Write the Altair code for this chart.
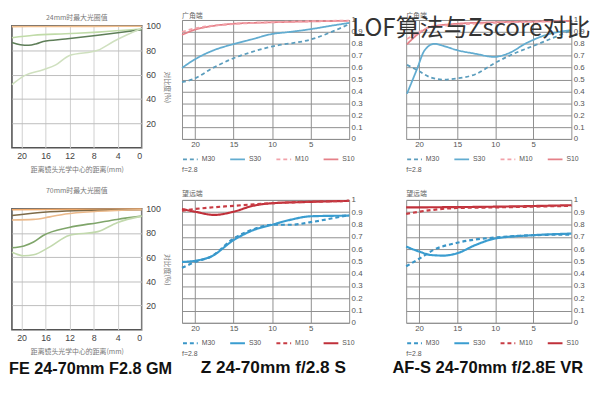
import altair as alt
import pandas as pd

TITLE = "LOF算法与Zscore对比"
LENS_NAMES = ["FE 24-70mm F2.8 GM", "Z 24-70mm f/2.8 S", "AF-S 24-70mm f/2.8E VR"]
PANEL_TITLES = ["24mm时最大光圈值", "广角端", "广角端", "70mm时最大光圈值", "望远端", "望远端"]
LEFT_X_TITLE = "距离镜头光学中心的距离(mm)"
LEFT_Y_TITLE = "对比度(%)"
LEGEND_TITLE = "f=2.8"
SERIES = ["M30", "S30", "M10", "S10"]
X_TICKS_LEFT = [0, 4, 8, 12, 16, 20]
Y_TICKS_LEFT = [20, 40, 60, 80, 100]
X_TICKS_MTF = [5, 10, 15, 20]
Y_TICKS_MTF = [0, 0.1, 0.2, 0.3, 0.4, 0.5, 0.6, 0.7, 0.8, 0.9, 1]

# ---- top-left panel (contrast %, 24mm) ----
TL_NAMES = ["A", "B", "C", "D"]
TL_A_X = [21.6, 16, 8, 0]
TL_A_Y = [99.4, 99.5, 99.6, 99.7]
TL_B_X = [21.6, 18.0, 12.7, 7.3, 0]
TL_B_Y = [90.3, 92.3, 93.6, 94.9, 97.4]
TL_C_X = [21.6, 20.2, 18.8, 17.5, 16.4, 12.7, 7.3, 0]
TL_C_Y = [86.4, 84.6, 84.1, 85.4, 87.2, 89.2, 92.3, 96.9]
TL_D_X = [21.6, 19.6, 16.4, 14.3, 12.1, 7.3, 4.7, 0]
TL_D_Y = [51.8, 59.0, 64.1, 68.0, 75.6, 80.0, 87.2, 98.0]

# ---- bottom-left panel (contrast %, 70mm) ----
BL_NAMES = ["A", "B", "C", "D", "E"]
BL_A_X = [21.6, 12, 0]
BL_A_Y = [99.2, 99.5, 99.7]
BL_B_X = [21.6, 16.4, 11.0, 0]
BL_B_Y = [94.4, 97.1, 98.4, 99.2]
BL_C_X = [21.6, 18.0, 15.3, 12.7, 7.3, 0]
BL_C_Y = [90.7, 91.2, 93.3, 95.7, 97.9, 99.2]
BL_D_X = [21.6, 19.6, 18.0, 16.4, 12.1, 7.3, 4.1, 0]
BL_D_Y = [67.7, 69.3, 72.5, 77.9, 84.5, 88.5, 91.2, 93.9]
BL_E_X = [21.6, 19.6, 18.0, 15.3, 12.1, 7.3, 4.1, 0]
BL_E_Y = [64.0, 61.1, 61.9, 68.5, 77.9, 81.1, 88.5, 93.9]

# ---- top-middle MTF (Z, wide) ----
TM_S10_X = [21.7, 20.2, 17.7, 15.1, 10.2, 5, 0.2]
TM_S10_Y = [0.875, 0.915, 0.95, 0.968, 0.98, 0.988, 0.993]
TM_M10_X = [21.7, 20, 15, 10, 5, 0]
TM_M10_Y = [0.90, 0.93, 0.965, 0.982, 0.99, 0.995]
TM_S30_X = [21.7, 20.2, 17.7, 15.1, 12.7, 10.2, 7.7, 5, 2.5, 0]
TM_S30_Y = [0.597, 0.663, 0.743, 0.796, 0.836, 0.88, 0.9, 0.923, 0.95, 0.975]
TM_M30_X = [21.7, 20.2, 17.7, 15.1, 12.7, 10.2, 5, 0]
TM_M30_Y = [0.477, 0.504, 0.597, 0.676, 0.73, 0.775, 0.836, 0.965]

# ---- top-right MTF (AF-S, wide) ----
TR_S10_X = [21.6, 20, 18.5, 15.1, 10, 5, 0]
TR_S10_Y = [0.796, 0.889, 0.942, 0.968, 0.981, 0.987, 0.99]
TR_M10_X = [21.6, 20, 18.5, 15, 10, 5, 0]
TR_M10_Y = [0.84, 0.9, 0.94, 0.96, 0.975, 0.985, 0.99]
TR_S30_X = [21.6, 20.3, 19.3, 18, 16.8, 15.1, 12.6, 10.1, 8.4, 5.8, 3.3, 0]
TR_S30_Y = [0.38, 0.584, 0.743, 0.8, 0.782, 0.748, 0.716, 0.69, 0.716, 0.809, 0.875, 0.915]
TR_M30_X = [21.6, 20, 18.5, 16.8, 15.1, 12.6, 10.1, 7.6, 5, 0]
TR_M30_Y = [0.623, 0.57, 0.517, 0.499, 0.509, 0.544, 0.637, 0.716, 0.782, 0.915]

# ---- bottom-middle MTF (Z, tele) ----
BM_S10_X = [21.7, 20, 17.5, 15, 12.5, 10, 5, 0]
BM_S10_Y = [0.926, 0.904, 0.878, 0.904, 0.952, 0.973, 0.984, 0.992]
BM_M10_X = [21.7, 20, 15, 10, 0]
BM_M10_Y = [0.912, 0.926, 0.952, 0.973, 0.992]
BM_S30_X = [21.7, 20, 17.9, 15, 12.5, 10, 7.5, 5, 0]
BM_S30_Y = [0.495, 0.505, 0.54, 0.673, 0.753, 0.798, 0.84, 0.867, 0.872]
BM_M30_X = [21.7, 20, 17.9, 15, 12.5, 10, 7.5, 5, 0]
BM_M30_Y = [0.447, 0.495, 0.54, 0.686, 0.76, 0.798, 0.798, 0.819, 0.878]

# ---- bottom-right MTF (AF-S, tele) ----
BR_S10_X = [21.7, 10, 0]
BR_S10_Y = [0.939, 0.945, 0.957]
BR_M10_X = [21.7, 20, 15, 10, 0]
BR_M10_Y = [0.886, 0.904, 0.934, 0.939, 0.952]
BR_S30_X = [21.7, 20, 18.5, 16.8, 15, 12.6, 10, 5, 0]
BR_S30_Y = [0.62, 0.58, 0.552, 0.547, 0.566, 0.633, 0.686, 0.713, 0.726]
BR_M30_X = [21.7, 20, 18.1, 15, 12.6, 10, 5, 0]
BR_M30_Y = [0.46, 0.521, 0.593, 0.651, 0.678, 0.694, 0.713, 0.718]

FONT = 'Liberation Sans, "Noto Sans CJK SC", sans-serif'
CJK = '"Noto Sans CJK SC", sans-serif'
GRID = "#8e8e8e"


def frame(series):
    rows = []
    for name, xs, ys in series:
        for x, y in zip(xs, ys):
            rows.append({"s": name, "x": x, "v": y})
    return pd.DataFrame(rows)


def text_note(text, x, y, size, weight, color, font, align="left", baseline="alphabetic"):
    return alt.Chart(pd.DataFrame({"t": [text]})).mark_text(
        font=font, fontSize=size, fontWeight=weight, color=color, align=align, baseline=baseline
    ).encode(text="t:N", x=alt.value(x), y=alt.value(y))


def left_panel(series, names, colors, height):
    df = frame(series)
    return alt.Chart(df).mark_line(interpolate="monotone", strokeWidth=1.6).encode(
        x=alt.X("x:Q", scale=alt.Scale(domain=[0, 21.6], reverse=True, nice=False, zero=False),
                axis=alt.Axis(values=X_TICKS_LEFT, format="d", title=LEFT_X_TITLE, labelFont=FONT,
                              labelFontSize=9, labelColor="#444", labelPadding=4, ticks=False,
                              domain=False, grid=True, gridColor="#cfcfcf", titleFont=CJK,
                              titleFontSize=7, titleColor="#777", titleFontWeight="normal",
                              titlePadding=5)),
        y=alt.Y("v:Q", scale=alt.Scale(domain=[0, 100], nice=False, zero=False),
                axis=alt.Axis(orient="right", values=Y_TICKS_LEFT, format="d", title=LEFT_Y_TITLE,
                              labelFont=FONT, labelFontSize=9, labelColor="#444", labelPadding=4,
                              ticks=False, domain=False, grid=True, gridColor="#bdbdbd",
                              titleFont=CJK, titleFontSize=7, titleColor="#777",
                              titleFontWeight="normal", titlePadding=3)),
        color=alt.Color("s:N", scale=alt.Scale(domain=names, range=colors), legend=None),
    ).properties(width=132, height=height,
                 view=alt.ViewBackground(stroke="#555", strokeWidth=1.6))


def mtf_panel(series, colors, height, width, stroke_w):
    df = frame(series)
    leg = alt.Legend(orient="bottom", direction="horizontal", columns=4, title=LEGEND_TITLE,
                     titleOrient="bottom", titleAnchor="start", titleFont=FONT, titleFontSize=7,
                     titleFontWeight="normal", titleColor="#555", titlePadding=3,
                     labelFont=FONT, labelFontSize=7, labelColor="#555", labelOffset=3,
                     symbolType="stroke", symbolSize=225, symbolStrokeWidth=2,
                     columnPadding=11, offset=2, padding=0, rowPadding=0)
    return alt.Chart(df).mark_line(interpolate="monotone", strokeWidth=stroke_w).encode(
        x=alt.X("x:Q", scale=alt.Scale(domain=[0, 21.7], reverse=True, nice=False, zero=False),
                axis=alt.Axis(values=X_TICKS_MTF, format="d", title=None, labelFont=FONT,
                              labelFontSize=8, labelColor="#555", labelPadding=2, ticks=False,
                              domain=False, grid=True, gridColor=GRID)),
        y=alt.Y("v:Q", scale=alt.Scale(domain=[0, 1], nice=False, zero=False),
                axis=alt.Axis(orient="right", values=Y_TICKS_MTF, format="~g", title=None,
                              labelFont=FONT, labelFontSize=8, labelColor="#555", labelPadding=2,
                              ticks=False, domain=False, grid=True, gridColor=GRID)),
        color=alt.Color("s:N", scale=alt.Scale(domain=SERIES, range=colors), legend=leg),
        strokeDash=alt.StrokeDash("s:N", scale=alt.Scale(domain=SERIES,
                                  range=[[4, 3], [1, 0], [4, 3], [1, 0]]), legend=leg),
    ).properties(width=width, height=height,
                 view=alt.ViewBackground(stroke=GRID, strokeWidth=1))


TOP_COLORS = ["#5b9dbd", "#62acd0", "#f2a2aa", "#e58088"]
BOT_COLORS = ["#3a96c8", "#3a9dd0", "#c83c44", "#c0303a"]

spacer = alt.Chart(pd.DataFrame({"a": [0]})).mark_rect(opacity=0).encode(
    x=alt.value(0), x2=alt.value(1), y=alt.value(0), y2=alt.value(1)
).properties(width=1, height=1, view=alt.ViewBackground(stroke="transparent"))

p1 = alt.layer(
    left_panel([("A", TL_A_X, TL_A_Y), ("B", TL_B_X, TL_B_Y), ("C", TL_C_X, TL_C_Y),
                ("D", TL_D_X, TL_D_Y)], TL_NAMES,
               ["#f2c08e", "#c0dba8", "#5e7e58", "#cfe0bf"], 124),
    text_note(PANEL_TITLES[0], 66, -6, 7, "normal", "#777", CJK, "center"),
)
p2 = alt.layer(
    mtf_panel([("S10", TM_S10_X, TM_S10_Y), ("M10", TM_M10_X, TM_M10_Y),
               ("S30", TM_S30_X, TM_S30_Y), ("M30", TM_M30_X, TM_M30_Y)],
              TOP_COLORS, 121, 170, 1.8),
    text_note(PANEL_TITLES[1], 0, -2, 7, "normal", "#666", CJK),
)
p3 = alt.layer(
    mtf_panel([("S10", TR_S10_X, TR_S10_Y), ("M10", TR_M10_X, TR_M10_Y),
               ("S30", TR_S30_X, TR_S30_Y), ("M30", TR_M30_X, TR_M30_Y)],
              TOP_COLORS, 121, 168, 1.8),
    text_note(PANEL_TITLES[2], 0, -2, 7, "normal", "#666", CJK),
    text_note(TITLE, -55, 16, 24.5, "normal", "#333", CJK),
)

p4 = alt.layer(
    left_panel([("A", BL_A_X, BL_A_Y), ("B", BL_B_X, BL_B_Y), ("C", BL_C_X, BL_C_Y),
                ("D", BL_D_X, BL_D_Y), ("E", BL_E_X, BL_E_Y)], BL_NAMES,
               ["#f0a868", "#7d6a48", "#ebb98a", "#7fa56a", "#c2d9ad"], 123),
    text_note(PANEL_TITLES[3], 66, -16, 7, "normal", "#777", CJK, "center"),
    text_note(LENS_NAMES[0], -3, 163, 16.5, "bold", "#111", FONT, "left", "middle"),
)
p5 = alt.layer(
    mtf_panel([("S10", BM_S10_X, BM_S10_Y), ("M10", BM_M10_X, BM_M10_Y),
               ("S30", BM_S30_X, BM_S30_Y), ("M30", BM_M30_X, BM_M30_Y)],
              BOT_COLORS, 125, 170, 2.2),
    text_note(PANEL_TITLES[4], 0, -4, 7, "normal", "#666", CJK),
    text_note(LENS_NAMES[1], 19, 171, 17.5, "bold", "#111", FONT, "left", "middle"),
)
p6 = alt.layer(
    mtf_panel([("S10", BR_S10_X, BR_S10_Y), ("M10", BR_M10_X, BR_M10_Y),
               ("S30", BR_S30_X, BR_S30_Y), ("M30", BR_M30_X, BR_M30_Y)],
              BOT_COLORS, 125, 168, 2.2),
    text_note(PANEL_TITLES[5], 0, -4, 7, "normal", "#666", CJK),
    text_note(LENS_NAMES[2], -14, 171, 16.8, "bold", "#111", FONT, "left", "middle"),
)

IND = dict(color="independent", strokeDash="independent", x="independent", y="independent")

col1 = alt.vconcat(alt.vconcat(spacer, p1, spacing=-9).resolve_scale(**IND), p4,
                   spacing=13).resolve_scale(**IND)
col2 = alt.vconcat(p2, p5, spacing=15).resolve_scale(**IND)
col3 = alt.vconcat(p3, p6, spacing=15).resolve_scale(**IND)

chart = alt.hconcat(
    col1,
    alt.hconcat(col2, col3, spacing=-12).resolve_scale(**IND),
    spacing=4,
).resolve_scale(**IND).properties(
    padding=0,
    background="white",
)

chart.save("out.html", embed_options={"renderer": "svg", "actions": False})
